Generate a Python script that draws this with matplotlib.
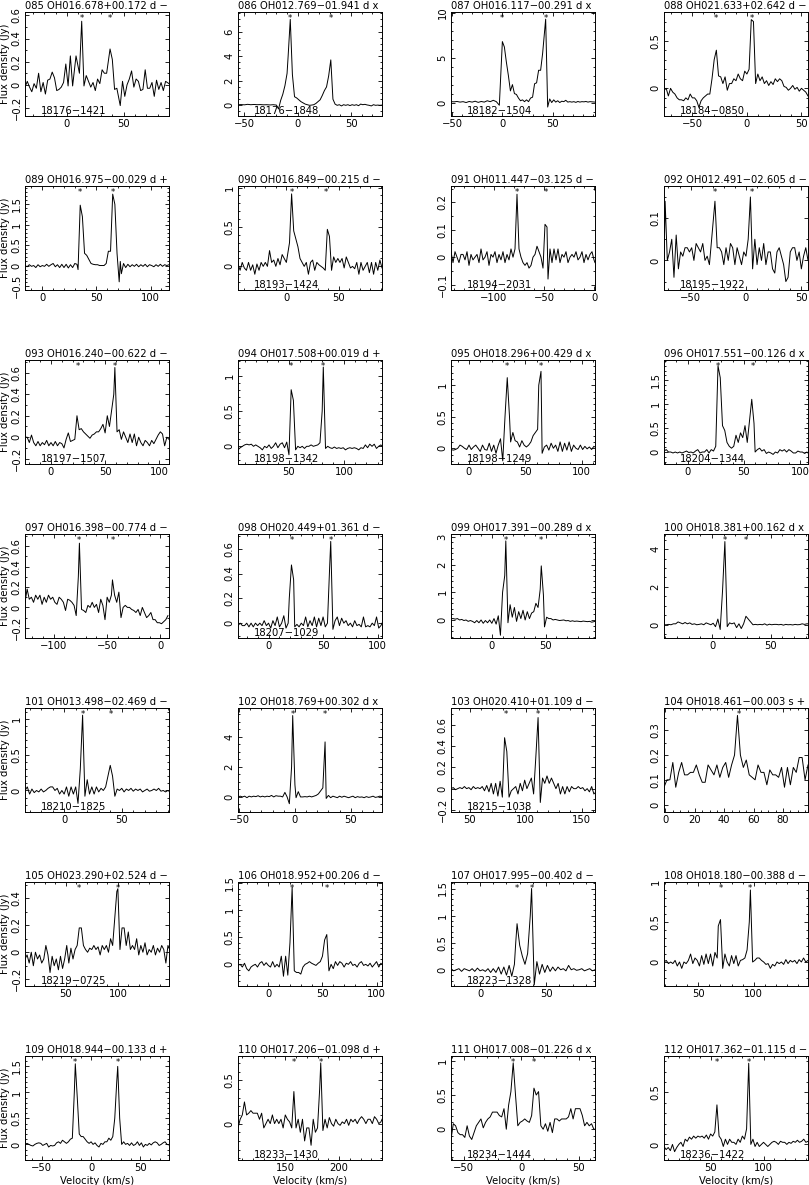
import matplotlib
matplotlib.use('Agg')
import matplotlib.pyplot as plt
import matplotlib.transforms as mtrans
from matplotlib.ticker import MultipleLocator, AutoMinorLocator, FuncFormatter

plt.rcParams['font.family'] = ['DejaVu Sans']
plt.rcParams['axes.linewidth'] = 0.7

# ---- panel headers -------------------------------------------------------
titles = ['085 OH016.678+00.172 d −', '086 OH012.769−01.941 d x', '087 OH016.117−00.291 d x',
          '088 OH021.633+02.642 d −', '089 OH016.975−00.029 d +', '090 OH016.849−00.215 d −',
          '091 OH011.447−03.125 d −', '092 OH012.491−02.605 d −', '093 OH016.240−00.622 d −',
          '094 OH017.508+00.019 d +', '095 OH018.296+00.429 d x', '096 OH017.551−00.126 d x',
          '097 OH016.398−00.774 d −', '098 OH020.449+01.361 d −', '099 OH017.391−00.289 d x',
          '100 OH018.381+00.162 d x', '101 OH013.498−02.469 d −', '102 OH018.769+00.302 d x',
          '103 OH020.410+01.109 d −', '104 OH018.461−00.003 s +', '105 OH023.290+02.524 d −',
          '106 OH018.952+00.206 d −', '107 OH017.995−00.402 d −', '108 OH018.180−00.388 d −',
          '109 OH018.944−00.133 d +', '110 OH017.206−01.098 d +', '111 OH017.008−01.226 d x',
          '112 OH017.362−01.115 d −']
names = ['18176−1421', '18176−1848', '18182−1504', '18184−0850', '', '18193−1424', '18194−2031',
         '18195−1922', '18197−1507', '18198−1342', '18198−1249', '18204−1344', '', '18207−1029',
         '', '', '18210−1825', '', '18215−1038', '', '18219−0725', '', '18223−1328', '', '',
         '18233−1430', '18234−1444', '18236−1422']
stars = [[13, 38], [-7, 31], [0, 43], [-28, 5], [35, 65], [5, 38], [-77, -48], [-28, 5],
         [25, 59], [52, 81], [34, 64], [27, 58], [-76, -45], [21, 57], [13, 46], [11, 29],
         [16, 41], [-2, 27], [82, 111], [50], [63, 100], [22, 54], [28, 39], [70, 97],
         [-16, 27], [158, 183], [-7, 11], [56, 86]]
xlims = [(-37, 90), (-56, 79), (-51, 92), (-76, 56), (-16, 117), (-46, 91), (-143, 1), (-74, 56),
         (-24, 109), (4, 134), (-16, 112), (-21, 107), (-127, 8), (-28, 104), (-38, 96), (-41, 82),
         (-34, 91), (-51, 78), (33, 162), (-1, 97), (11, 149), (-28, 105), (-22, 87), (19, 149),
         (-67, 79), (106, 240), (-61, 64), (6, 142)]
ylims = [(-0.27, 0.63), (-0.87, 7.6), (-1.5, 10.1), (-0.29, 0.8), (-0.6, 1.95), (-0.3, 1.02),
         (-0.12, 0.26), (-0.07, 0.176), (-0.25, 0.72), (-0.25, 1.22), (-0.25, 1.4), (-0.25, 1.92),
         (-0.3, 0.72), (-0.12, 0.72), (-0.65, 3.1), (-0.7, 4.8), (-0.3, 1.15), (-1.0, 5.9),
         (-0.22, 0.76), (-0.03, 0.39), (-0.25, 0.52), (-0.4, 1.52), (-0.3, 1.62), (-0.3, 1.0),
         (-0.3, 1.7), (-0.42, 0.78), (-0.45, 1.07), (-0.15, 0.85)]
xsteps = [50] * 19 + [20] + [50] * 8
ysteps = [0.2, 2, 5, 0.5, 0.5, 0.5, 0.1, 0.1, 0.2, 0.5, 0.5, 0.5, 0.2, 0.2, 1, 2,
          0.5, 2, 0.2, 0.1, 0.2, 0.5, 0.5, 0.5, 0.5, 0.5, 0.5, 0.5]

# ---- spectra: (velocity km/s, flux density Jy) ------------------------------
p085 = [(-37,-0.02),(-35,0.03),(-33,-0.02),(-31,-0.06),(-29,0.01),(-27,-0.03),(-25,0.10),(-23,-0.06),
        (-21,0.02),(-19,-0.08),(-17,0.04),(-15,0.05),(-13,0.11),(-11,0.06),(-9,-0.05),(-7,-0.04),
        (-5,-0.02),(-3,0.02),(-1,0.18),(1,-0.01),(3,0.25),(5,-0.01),(8,0.25),(11,0.10),(13,0.55),
        (15,-0.01),(17,0.08),(19,0.03),(21,-0.02),(23,0.02),(25,-0.05),(27,0.05),(29,0.01),(31,0.13),
        (33,0.10),(35,0.10),(38,0.31),(40,0.22),(42,-0.04),(44,-0.03),(47,-0.18),(49,0.03),(51,-0.10),
        (53,0.00),(55,0.05),(57,0.12),(59,-0.02),(61,0.05),(63,0.03),(65,-0.05),(67,-0.04),(69,0.13),
        (71,-0.03),(73,-0.03),(75,0.02),(77,-0.10),(79,0.04),(81,-0.04),(83,0.02),(85,-0.05),(87,0.03),
        (90,0.01)]
p086 = [(-56,0.05),(-53,0.06),(-50,0.04),(-47,0.08),(-44,0.05),(-41,0.07),(-38,0.05),(-35,0.06),
        (-32,0.04),(-29,0.05),(-26,0.03),(-23,0.05),(-20,0.02),(-18,-0.3),(-16,0.4),(-14,0.9),
        (-12,1.6),(-10,2.6),(-9,4.0),(-7,7.0),(-5,2.5),(-3,0.7),(-1,0.6),(1,0.45),(3,0.3),(5,0.2),
        (7,0.1),(9,0.05),(11,0.0),(13,0.02),(15,0.05),(17,0.15),(19,0.3),(21,0.45),(23,0.8),(25,1.2),
        (27,1.5),(29,2.4),(31,3.7),(33,0.5),(35,0.1),(37,0.0),(39,0.05),(41,-0.05),(43,0.05),(45,0.0),
        (47,0.05),(49,-0.02),(51,0.05),(53,0.0),(55,0.05),(57,-0.03),(59,0.1),(61,0.05),(63,0.08),
        (65,0.03),(67,0.0),(69,-0.05),(71,0.05),(73,0.0),(75,0.02),(77,0.0),(79,0.02)]
p087 = [(-51,0.1),(-48,0.08),(-45,0.12),(-42,0.05),(-39,0.1),(-36,0.0),(-33,0.12),(-30,0.05),
        (-27,0.15),(-24,0.02),(-21,0.12),(-18,0.05),(-15,0.2),(-12,0.1),(-9,0.25),(-6,0.1),(-3,-0.3),
        (0,6.8),(2,6.2),(4,4.5),(6,3.0),(8,1.3),(10,2.0),(12,1.0),(14,0.9),(16,0.5),(18,0.2),(20,0.3),
        (22,0.1),(24,0.3),(26,0.1),(28,0.5),(30,0.6),(32,2.1),(34,2.2),(36,3.6),(38,3.6),(40,5.5),
        (43,9.3),(45,-0.5),(47,0.4),(49,0.0),(51,0.3),(53,0.05),(55,0.2),(57,0.0),(59,0.15),(61,0.1),
        (63,0.25),(65,0.05),(67,0.1),(69,0.05),(71,0.1),(73,0.02),(75,0.12),(77,0.05),(79,0.1),
        (81,0.08),(83,0.12),(85,0.05),(87,0.1),(89,0.08),(92,0.05)]
p088 = [(-76,-0.02),(-74,0.0),(-72,-0.08),(-70,0.0),(-68,-0.04),(-66,-0.06),(-64,-0.1),(-62,-0.12),
        (-60,-0.12),(-58,-0.13),(-56,-0.1),(-54,-0.12),(-52,-0.06),(-50,-0.1),(-48,-0.1),(-46,-0.13),
        (-44,-0.2),(-42,-0.13),(-40,-0.1),(-38,-0.08),(-36,-0.06),(-34,-0.06),(-32,0.1),(-30,0.3),
        (-28,0.4),(-26,0.13),(-24,0.12),(-22,0.05),(-20,0.12),(-18,-0.02),(-16,0.05),(-14,0.05),
        (-12,0.1),(-10,0.08),(-8,0.15),(-6,0.1),(-4,0.08),(-2,0.18),(0,0.15),(2,0.2),(4,0.72),(6,0.7),
        (8,0.05),(10,0.15),(12,0.08),(14,0.12),(16,0.05),(18,0.08),(20,0.03),(22,0.07),(24,0.04),
        (26,0.1),(28,0.07),(30,0.1),(32,0.08),(34,0.02),(36,0.01),(38,-0.02),(40,0.0),(42,0.03),
        (44,-0.01),(46,0.01),(48,-0.03),(50,0.0),(52,-0.02),(54,-0.04),(56,-0.08)]
p089 = [(-16,0.0),(-14,-0.03),(-12,0.02),(-10,-0.02),(-8,0.0),(-6,-0.05),(-4,0.02),(-2,-0.03),
        (0,0.0),(2,-0.02),(4,0.03),(6,-0.02),(8,0.02),(10,0.05),(12,-0.03),(14,0.02),(16,-0.05),
        (18,0.03),(20,-0.05),(22,0.03),(24,-0.06),(26,0.02),(28,-0.05),(30,0.05),(32,0.03),(33,-0.1),
        (35,1.48),(37,1.2),(39,0.3),(41,0.25),(43,0.15),(45,0.05),(47,0.03),(49,0.02),(51,0.02),
        (53,0.0),(55,0.0),(57,0.0),(59,0.05),(61,0.35),(63,0.35),(65,1.75),(67,1.5),(69,0.3),
        (71,-0.4),(72,0.1),(73,-0.2),(75,0.05),(77,-0.05),(79,0.03),(81,-0.03),(83,0.02),(85,-0.02),
        (87,0.03),(89,-0.03),(91,0.02),(93,-0.02),(95,0.03),(97,-0.03),(99,0.02),(101,0.0),
        (103,-0.03),(105,0.02),(107,-0.02),(109,0.03),(111,-0.02),(113,0.02),(115,0.0),(117,0.02)]
p090 = [(-46,0.03),(-44,-0.05),(-42,0.05),(-40,-0.02),(-38,-0.05),(-36,0.05),(-34,-0.05),(-32,0.02),
        (-30,-0.1),(-28,0.03),(-26,-0.05),(-24,0.05),(-22,0.0),(-20,0.05),(-18,0.0),(-16,0.2),
        (-14,0.05),(-12,0.08),(-10,0.0),(-8,0.1),(-6,0.02),(-4,0.15),(-2,0.1),(0,0.05),(3,0.3),
        (5,0.92),(7,0.45),(9,0.35),(11,0.25),(13,0.1),(15,0.05),(17,0.0),(19,0.05),(21,-0.1),
        (23,0.05),(25,0.08),(27,-0.05),(29,0.05),(31,0.02),(33,0.0),(35,-0.02),(37,-0.05),(39,0.47),
        (41,0.38),(43,-0.05),(45,0.12),(47,0.05),(49,0.1),(51,0.05),(53,0.1),(55,-0.02),(57,0.12),
        (59,0.05),(61,-0.02),(63,0.0),(65,-0.03),(67,0.05),(69,-0.1),(71,0.05),(73,-0.05),(75,0.0),
        (77,0.05),(79,-0.08),(81,0.05),(83,-0.1),(85,0.05),(87,-0.05),(89,0.08),(91,-0.02)]
p091 = [(-143,0.02),(-141,-0.02),(-139,0.02),(-137,0.0),(-135,-0.02),(-133,0.01),(-131,0.01),
        (-129,-0.01),(-127,0.02),(-125,-0.03),(-123,0.01),(-121,-0.01),(-119,0.0),(-117,0.01),
        (-115,-0.02),(-113,0.03),(-111,-0.01),(-109,0.0),(-107,0.02),(-105,-0.03),(-103,0.01),
        (-101,0.0),(-99,0.02),(-97,-0.02),(-95,0.01),(-93,-0.01),(-91,0.02),(-89,-0.02),(-87,0.01),
        (-85,-0.01),(-83,0.03),(-81,0.0),(-79,0.03),(-77,0.23),(-75,0.03),(-73,0.0),(-71,-0.02),
        (-69,-0.03),(-67,-0.02),(-65,-0.04),(-63,-0.03),(-61,0.0),(-59,0.01),(-57,0.04),(-55,0.02),
        (-53,0.0),(-51,-0.04),(-49,0.12),(-47,0.11),(-46,-0.08),(-44,0.03),(-42,-0.02),(-40,0.03),
        (-38,-0.01),(-36,0.03),(-34,-0.02),(-32,0.01),(-30,0.0),(-28,0.02),(-26,-0.02),(-24,0.0),
        (-22,0.01),(-20,0.0),(-18,0.02),(-16,-0.01),(-14,0.0),(-12,0.02),(-10,-0.02),(-8,0.01),
        (-6,-0.01),(-4,0.01),(-2,0.02),(0,-0.01),(1,-0.02)]
p092 = [(-74,-0.01),(-73,0.14),(-71,0.0),(-69,0.02),(-67,0.05),(-65,-0.04),(-63,0.06),(-61,-0.02),
        (-59,0.02),(-57,0.01),(-55,0.03),(-53,0.03),(-51,0.02),(-49,0.03),(-47,0.0),(-45,0.04),
        (-43,0.03),(-41,0.02),(-39,0.04),(-37,0.0),(-35,0.01),(-33,-0.01),(-30,0.08),(-28,0.14),
        (-26,0.03),(-24,0.03),(-22,0.02),(-20,-0.01),(-18,0.03),(-16,0.0),(-14,0.04),(-12,0.03),
        (-10,-0.01),(-8,0.03),(-6,0.01),(-4,-0.01),(-2,0.02),(0,0.01),(2,0.05),(4,0.15),(6,-0.02),
        (8,0.05),(10,-0.01),(12,0.03),(14,0.0),(16,0.04),(18,-0.01),(20,0.02),(22,0.02),(24,-0.02),
        (26,-0.03),(28,0.02),(30,0.03),(32,0.01),(34,-0.01),(36,-0.05),(38,-0.04),(40,0.02),
        (42,0.03),(44,0.03),(46,0.0),(48,0.02),(50,-0.02),(52,0.01),(54,0.03),(56,0.0)]
p093 = [(-24,0.0),(-22,0.0),(-20,-0.05),(-18,0.02),(-16,-0.05),(-14,-0.08),(-12,-0.04),(-10,-0.08),
        (-8,-0.05),(-6,-0.07),(-4,-0.03),(-2,-0.08),(0,-0.05),(2,-0.08),(4,-0.04),(6,-0.08),(8,-0.05),
        (10,-0.06),(12,-0.1),(14,-0.02),(16,0.04),(18,-0.04),(20,-0.03),(22,-0.02),(24,0.2),(26,0.07),
        (28,0.08),(30,0.05),(32,0.03),(34,0.01),(36,-0.01),(38,0.02),(40,0.03),(42,0.05),(44,0.05),
        (46,0.08),(48,0.12),(50,0.04),(52,0.2),(54,0.1),(56,0.25),(58,0.4),(59,0.65),(61,0.05),
        (63,0.07),(65,-0.02),(67,0.05),(69,0.0),(71,-0.05),(73,0.03),(75,-0.05),(77,0.03),(79,-0.08),
        (81,0.0),(83,-0.05),(85,-0.08),(87,-0.03),(89,-0.05),(91,-0.08),(93,-0.03),(95,-0.06),
        (97,-0.02),(99,0.02),(101,0.05),(103,0.03),(105,-0.08),(107,0.0),(109,-0.02)]
p094 = [(4,-0.05),(6,-0.02),(8,0.0),(10,0.02),(12,0.03),(14,0.02),(16,0.03),(18,0.0),(20,0.02),
        (22,0.0),(24,-0.02),(26,-0.05),(28,0.0),(30,-0.02),(32,0.02),(34,-0.03),(36,0.0),(38,0.05),
        (40,-0.02),(42,0.03),(44,0.05),(46,-0.02),(48,0.06),(50,-0.12),(52,0.8),(54,0.65),(56,-0.05),
        (58,0.0),(60,-0.02),(62,0.0),(64,-0.03),(66,0.0),(68,0.0),(70,0.02),(72,0.0),(74,0.01),
        (76,0.02),(78,0.05),(80,0.5),(81,1.12),(83,-0.03),(85,0.0),(87,-0.02),(89,-0.03),(91,-0.01),
        (93,-0.03),(95,-0.02),(97,-0.03),(99,-0.02),(101,-0.05),(103,-0.03),(105,-0.02),(107,-0.03),
        (109,-0.02),(111,-0.03),(113,-0.05),(115,-0.02),(117,-0.03),(119,0.02),(121,-0.02),(123,0.03),
        (125,0.0),(127,0.03),(129,-0.03),(131,0.0),(133,0.02),(134,0.0)]
p095 = [(-16,-0.02),(-14,-0.03),(-12,-0.02),(-10,0.0),(-8,0.05),(-6,0.03),(-4,0.0),(-2,-0.02),
        (0,0.05),(2,-0.02),(4,0.02),(6,0.05),(8,0.0),(10,-0.05),(12,0.05),(14,-0.02),(16,-0.03),
        (18,0.08),(20,-0.05),(22,0.05),(24,-0.08),(26,0.05),(28,0.15),(30,-0.2),(32,0.5),(34,1.12),
        (36,0.5),(37,0.1),(39,0.25),(41,0.12),(43,0.1),(45,0.02),(47,0.12),(49,0.05),(51,0.02),
        (53,0.05),(55,0.1),(57,0.2),(59,0.25),(61,0.3),(62,1.0),(64,1.22),(65,-0.08),(67,0.02),
        (69,0.05),(71,-0.03),(73,0.08),(75,0.0),(77,0.05),(79,-0.05),(81,0.1),(83,-0.05),(85,0.08),
        (87,-0.03),(89,0.1),(91,-0.05),(93,0.05),(95,0.0),(97,-0.02),(99,0.05),(101,-0.02),(103,0.03),
        (105,-0.01),(107,0.02),(109,-0.02),(111,0.03),(112,0.02)]
p096 = [(-21,0.02),(-19,0.05),(-17,0.0),(-15,0.0),(-13,-0.02),(-11,0.0),(-9,-0.02),(-7,0.0),
        (-5,-0.02),(-3,0.0),(-1,0.02),(1,-0.01),(3,0.0),(5,-0.02),(7,0.02),(9,0.05),(11,-0.02),
        (13,0.0),(15,0.0),(17,0.05),(19,-0.02),(21,0.05),(23,0.02),(25,0.12),(27,1.8),(29,1.55),
        (31,0.55),(33,0.45),(35,0.2),(37,0.12),(39,0.08),(41,0.12),(43,0.35),(45,0.2),(47,0.4),
        (49,0.3),(51,0.55),(53,0.2),(55,0.65),(57,1.1),(59,0.6),(60,0.0),(62,0.05),(64,0.08),(66,0.02),
        (68,0.05),(70,-0.03),(72,0.0),(74,-0.02),(76,-0.05),(78,0.0),(80,-0.02),(82,0.05),(84,0.02),
        (86,0.05),(88,0.0),(90,0.05),(92,0.02),(94,-0.02),(96,-0.02),(98,0.02),(100,0.0),(102,0.0),
        (104,-0.03),(106,0.0),(107,-0.02)]
p097 = [(-127,0.05),(-125,0.18),(-123,0.08),(-121,0.1),(-119,0.05),(-117,0.12),(-115,0.08),
        (-113,0.12),(-111,0.03),(-109,0.1),(-107,0.05),(-105,0.12),(-103,0.08),(-101,0.1),(-99,0.05),
        (-97,0.03),(-95,0.1),(-93,0.08),(-91,0.05),(-89,-0.03),(-87,0.08),(-85,0.07),(-83,0.05),
        (-81,0.02),(-79,-0.08),(-77,0.3),(-76,0.63),(-74,-0.02),(-72,-0.03),(-70,-0.05),(-68,0.02),
        (-66,0.0),(-64,0.05),(-62,0.0),(-60,0.03),(-58,-0.05),(-56,0.08),(-54,0.02),(-52,-0.12),
        (-50,0.1),(-48,0.05),(-46,0.12),(-45,0.27),(-43,0.12),(-41,0.05),(-39,0.15),(-37,-0.1),
        (-35,0.0),(-33,0.02),(-31,0.0),(-29,0.0),(-27,-0.02),(-25,-0.03),(-23,-0.05),(-21,-0.02),
        (-19,-0.08),(-17,0.0),(-15,-0.05),(-13,-0.1),(-11,-0.08),(-9,-0.05),(-7,-0.12),(-5,-0.12),
        (-3,-0.15),(-1,-0.15),(1,-0.16),(3,-0.14),(5,-0.12),(7,-0.08)]
p098 = [(-28,-0.02),(-26,0.0),(-24,-0.02),(-22,-0.02),(-20,0.0),(-18,-0.03),(-16,0.0),(-14,-0.03),
        (-12,0.0),(-10,-0.02),(-8,0.0),(-6,-0.02),(-4,0.02),(-2,-0.02),(0,0.0),(2,-0.04),(4,0.02),
        (6,-0.02),(8,0.05),(10,-0.03),(12,0.0),(14,0.06),(16,-0.04),(18,0.0),(19,0.2),(21,0.47),
        (23,0.35),(24,-0.03),(26,-0.01),(28,-0.03),(30,0.0),(32,-0.02),(34,0.05),(36,-0.03),(38,0.02),
        (40,-0.02),(42,0.05),(44,-0.03),(46,0.04),(48,-0.02),(50,0.05),(52,-0.03),(54,0.0),(56,0.45),
        (57,0.66),(59,-0.05),(61,0.02),(63,0.05),(65,-0.02),(67,0.04),(69,0.0),(71,0.02),(73,-0.02),
        (75,0.0),(77,-0.03),(79,0.02),(81,-0.02),(83,-0.01),(85,-0.03),(87,0.05),(89,-0.03),(91,-0.02),
        (93,-0.03),(95,0.0),(97,-0.02),(99,0.05),(101,-0.04),(103,-0.02),(104,0.0)]
p099 = [(-38,0.05),(-36,0.05),(-34,0.03),(-32,0.05),(-30,0.0),(-28,0.02),(-26,-0.02),(-24,0.0),
        (-22,-0.05),(-20,-0.02),(-18,-0.05),(-16,-0.1),(-14,-0.02),(-12,-0.1),(-10,0.0),(-8,-0.12),
        (-6,-0.02),(-4,-0.1),(-2,0.0),(0,-0.12),(2,0.05),(4,-0.15),(6,0.15),(8,-0.55),(10,1.0),
        (12,1.6),(13,2.85),(15,-0.1),(17,0.55),(19,0.1),(21,0.45),(23,-0.05),(25,0.3),(27,0.05),
        (29,0.35),(31,0.0),(33,0.3),(35,0.05),(37,0.25),(39,0.3),(41,0.6),(43,0.45),(45,1.1),
        (46,1.95),(48,0.9),(49,-0.25),(51,0.1),(53,0.05),(55,0.05),(57,0.0),(59,0.02),(61,0.0),
        (63,-0.02),(65,-0.01),(67,0.0),(69,-0.03),(71,-0.02),(73,-0.05),(75,-0.03),(77,-0.05),
        (79,-0.04),(81,-0.05),(83,-0.06),(85,-0.04),(87,-0.05),(89,-0.06),(91,-0.05),(93,-0.08),
        (95,-0.06),(96,-0.05)]
p100 = [(-41,0.0),(-39,0.0),(-37,0.02),(-35,0.0),(-33,0.05),(-31,0.05),(-29,0.15),(-27,0.1),
        (-25,0.05),(-23,0.12),(-21,0.05),(-19,0.1),(-17,0.02),(-15,0.05),(-13,0.0),(-11,0.02),
        (-9,0.05),(-7,0.0),(-5,0.1),(-3,0.05),(-1,0.0),(1,0.08),(3,-0.1),(5,0.3),(7,-0.25),(9,1.8),
        (11,4.4),(13,-0.1),(15,0.1),(17,0.05),(19,0.1),(21,-0.15),(23,0.05),(25,-0.2),(27,0.05),
        (29,0.45),(31,0.3),(33,0.15),(35,0.0),(37,0.02),(39,0.0),(41,0.02),(43,0.0),(45,0.05),
        (47,-0.02),(49,0.03),(51,0.0),(53,0.02),(55,0.02),(57,0.0),(59,0.02),(61,-0.02),(63,0.02),
        (65,0.0),(67,0.01),(69,-0.01),(71,0.02),(73,0.0),(75,0.01),(77,0.05),(79,0.02),(81,0.05),
        (82,0.05)]
p101 = [(-34,0.0),(-32,0.05),(-30,-0.05),(-28,0.02),(-26,-0.03),(-24,0.0),(-22,-0.02),(-20,0.02),
        (-18,-0.02),(-16,0.0),(-14,0.03),(-12,0.05),(-10,0.05),(-8,0.0),(-6,0.03),(-4,-0.05),(-2,0.0),
        (0,-0.05),(2,0.05),(4,-0.08),(6,0.05),(8,-0.05),(10,0.05),(12,-0.18),(14,0.3),(16,1.05),
        (18,-0.08),(20,0.15),(22,-0.05),(24,0.05),(26,-0.05),(28,0.05),(30,-0.02),(32,0.03),(34,0.0),
        (36,0.05),(38,0.2),(40,0.35),(42,0.2),(44,-0.08),(46,0.02),(48,0.0),(50,0.03),(52,-0.02),
        (54,0.02),(56,0.0),(58,0.03),(60,-0.01),(62,0.02),(64,0.0),(66,0.02),(68,-0.02),(70,0.0),
        (72,0.02),(74,-0.01),(76,0.0),(78,0.02),(80,0.0),(82,0.03),(84,-0.01),(86,0.0),(88,-0.02),
        (90,0.0),(91,-0.01)]
p102 = [(-51,0.0),(-49,0.05),(-47,0.0),(-45,0.05),(-43,-0.05),(-41,0.05),(-39,0.0),(-37,0.05),
        (-35,0.02),(-33,0.08),(-31,0.0),(-29,0.05),(-27,0.0),(-25,0.05),(-23,0.02),(-21,0.1),
        (-19,0.0),(-17,0.08),(-15,0.05),(-13,0.05),(-11,0.0),(-9,0.3),(-7,0.0),(-5,-0.45),(-3,2.0),
        (-2,5.4),(0,0.8),(1,-0.05),(3,0.35),(5,0.0),(7,0.0),(9,0.02),(11,0.0),(13,0.05),(15,0.0),
        (17,0.05),(19,0.1),(21,0.2),(23,0.4),(25,0.6),(27,3.65),(28,-0.1),(30,0.1),(32,-0.05),
        (34,0.05),(36,0.0),(38,-0.05),(40,0.05),(42,-0.02),(44,0.05),(46,0.0),(48,-0.05),(50,0.0),
        (52,0.05),(54,-0.05),(56,0.02),(58,-0.02),(60,0.0),(62,-0.05),(64,0.02),(66,-0.03),(68,0.0),
        (70,0.05),(72,-0.03),(74,0.0),(76,0.05),(78,0.02)]
p103 = [(33,0.0),(35,0.01),(37,-0.01),(39,0.0),(41,0.01),(43,0.0),(45,0.02),(47,0.0),(49,0.01),
        (51,-0.01),(53,0.02),(55,0.0),(57,0.01),(59,0.0),(61,0.02),(63,-0.02),(65,0.03),(67,-0.03),
        (69,0.05),(71,-0.05),(73,0.05),(75,-0.07),(77,0.07),(79,-0.08),(81,0.48),(83,0.35),(85,-0.08),
        (87,-0.02),(89,0.0),(91,0.02),(93,-0.05),(95,0.05),(97,-0.02),(99,0.08),(101,0.0),(103,0.05),
        (105,0.1),(107,-0.05),(109,0.3),(111,0.67),(113,-0.13),(115,0.1),(117,0.05),(119,0.12),
        (121,0.05),(123,0.1),(125,0.05),(127,0.0),(129,0.05),(131,-0.05),(133,0.02),(135,-0.05),
        (137,0.02),(139,-0.03),(141,0.02),(143,0.0),(145,0.0),(147,0.02),(149,0.0),(151,0.01),
        (153,-0.02),(155,0.0),(157,-0.03),(159,0.02),(161,-0.05),(162,-0.04)]
p104 = [(-1,0.07),(1,0.1),(3,0.1),(5,0.17),(7,0.07),(9,0.13),(11,0.17),(13,0.12),(15,0.12),
        (17,0.13),(19,0.13),(21,0.16),(23,0.12),(25,0.09),(27,0.09),(29,0.16),(31,0.14),(33,0.12),
        (35,0.16),(37,0.11),(39,0.15),(41,0.17),(43,0.11),(45,0.16),(47,0.2),(49,0.36),(51,0.2),
        (53,0.15),(55,0.18),(57,0.12),(59,0.11),(61,0.1),(63,0.16),(65,0.13),(67,0.13),(69,0.08),
        (71,0.14),(73,0.12),(75,0.12),(77,0.11),(79,0.15),(81,0.07),(83,0.15),(85,0.08),(87,0.15),
        (89,0.13),(91,0.19),(93,0.19),(95,0.1),(97,0.16)]
p105 = [(11,-0.05),(13,-0.02),(15,-0.08),(17,0.0),(19,-0.1),(21,0.0),(23,-0.05),(25,-0.02),
        (27,-0.08),(29,-0.05),(31,0.05),(33,-0.02),(35,-0.15),(37,-0.03),(39,-0.1),(41,-0.05),
        (43,-0.13),(45,-0.03),(47,-0.12),(49,-0.05),(51,0.05),(53,-0.08),(55,0.03),(57,-0.05),
        (59,0.02),(61,0.05),(63,0.18),(65,0.18),(67,0.05),(69,0.02),(71,0.0),(73,0.03),(75,0.02),
        (77,0.05),(79,0.02),(81,0.04),(83,-0.02),(85,0.05),(87,0.02),(89,0.05),(91,0.0),(93,0.1),
        (95,0.05),(97,0.25),(99,0.45),(100,0.47),(102,0.02),(104,0.18),(106,0.18),(108,0.05),
        (110,0.15),(112,0.02),(114,0.05),(116,0.02),(118,0.1),(120,-0.02),(122,0.05),(124,0.0),
        (126,0.07),(128,-0.02),(130,0.02),(132,0.0),(134,0.05),(136,-0.02),(138,0.03),(140,0.0),
        (142,0.05),(144,0.02),(146,-0.08),(148,0.05),(149,0.03)]
p106 = [(-28,-0.02),(-26,0.0),(-24,-0.05),(-22,0.02),(-20,-0.08),(-18,-0.12),(-16,-0.05),(-14,-0.02),
        (-12,0.0),(-10,-0.05),(-8,0.02),(-6,0.05),(-4,-0.02),(-2,0.03),(0,-0.02),(2,-0.05),(4,0.05),
        (6,-0.05),(8,0.0),(10,-0.05),(12,0.15),(14,-0.22),(16,0.15),(18,-0.2),(20,0.4),(22,1.42),
        (24,-0.12),(26,-0.15),(28,-0.15),(30,-0.18),(32,-0.05),(34,0.0),(36,0.02),(38,0.05),(40,0.02),
        (42,0.0),(44,-0.02),(46,0.02),(48,0.05),(50,0.15),(52,0.45),(54,0.55),(56,-0.12),(58,0.0),
        (60,-0.08),(62,0.05),(64,-0.02),(66,0.05),(68,0.02),(70,-0.05),(72,0.02),(74,0.0),(76,0.05),
        (78,-0.02),(80,0.0),(82,-0.05),(84,0.02),(86,0.05),(88,-0.02),(90,0.0),(92,-0.03),(94,0.02),
        (96,-0.05),(98,0.0),(100,0.05),(102,-0.05),(104,0.02),(105,0.0)]
p107 = [(-22,0.02),(-20,-0.02),(-18,0.0),(-16,0.02),(-14,-0.03),(-12,0.02),(-10,0.0),(-8,-0.02),
        (-6,0.02),(-4,-0.03),(-2,0.03),(0,-0.02),(2,0.0),(4,-0.03),(6,0.02),(8,-0.05),(10,0.02),
        (12,-0.05),(14,0.05),(16,-0.08),(18,0.05),(20,-0.1),(22,0.08),(24,-0.12),(26,0.1),(27,0.5),
        (28,0.85),(30,0.45),(32,0.25),(34,0.1),(36,0.3),(38,1.0),(39,1.5),(41,-0.28),(43,0.15),
        (45,-0.08),(47,0.1),(49,-0.05),(51,0.08),(53,-0.03),(55,0.05),(57,-0.02),(59,0.05),(61,0.0),
        (63,0.02),(65,-0.02),(67,0.08),(69,0.0),(71,0.02),(73,-0.01),(75,0.0),(77,0.02),(79,-0.02),
        (81,0.0),(83,0.02),(85,-0.02),(87,0.0)]
p108 = [(19,0.0),(21,0.02),(23,-0.02),(25,0.0),(27,-0.02),(29,0.02),(31,-0.05),(33,0.0),(35,-0.08),
        (37,0.0),(39,-0.02),(41,0.02),(43,0.1),(45,-0.02),(47,0.05),(49,0.02),(51,-0.05),(53,0.08),
        (55,-0.03),(57,0.1),(59,-0.02),(61,0.1),(63,-0.05),(65,0.12),(67,0.05),(68,0.45),(70,0.53),
        (72,-0.08),(74,0.1),(76,0.0),(78,-0.05),(80,0.08),(82,-0.02),(84,0.08),(86,-0.05),(88,0.02),
        (90,0.03),(92,0.05),(94,0.15),(96,0.5),(97,0.9),(99,0.0),(101,0.02),(103,0.05),(105,0.05),
        (107,0.02),(109,0.0),(111,-0.03),(113,-0.02),(115,-0.08),(117,-0.03),(119,-0.05),(121,0.0),
        (123,-0.02),(125,0.0),(127,-0.03),(129,0.03),(131,-0.02),(133,0.02),(135,0.0),(137,0.02),
        (139,-0.02),(141,0.03),(143,0.0),(145,0.05),(147,0.0),(149,0.02)]
p109 = [(-67,0.0),(-65,0.02),(-63,0.0),(-61,-0.02),(-59,-0.03),(-57,0.0),(-55,0.02),(-53,0.03),
        (-51,0.02),(-49,-0.02),(-47,0.0),(-45,0.02),(-43,-0.05),(-41,-0.02),(-39,-0.03),(-37,-0.02),
        (-35,0.03),(-33,0.05),(-31,0.02),(-29,0.08),(-27,0.05),(-25,0.02),(-23,0.05),(-21,0.1),
        (-19,0.12),(-17,1.0),(-16,1.55),(-14,0.9),(-12,0.2),(-10,0.15),(-8,0.15),(-6,0.1),(-4,0.05),
        (-2,0.02),(0,0.05),(2,0.0),(4,0.03),(6,-0.02),(8,-0.05),(10,0.02),(12,0.0),(14,0.05),
        (16,0.05),(18,0.12),(20,0.08),(22,0.15),(24,0.5),(26,1.2),(27,1.5),(29,0.5),(31,0.0),
        (33,0.05),(35,0.0),(37,0.02),(39,-0.02),(41,0.03),(43,-0.02),(45,0.0),(47,0.05),(49,-0.02),
        (51,0.03),(53,-0.05),(55,0.0),(57,-0.02),(59,0.02),(61,-0.01),(63,0.03),(65,0.05),(67,0.03),
        (69,-0.02),(71,0.0),(73,0.03),(75,0.05),(77,0.0),(79,-0.01)]
p110 = [(106,-0.05),(108,0.05),(110,0.1),(112,0.25),(114,0.1),(116,0.12),(118,0.15),(120,0.12),
        (122,0.12),(124,0.12),(126,0.05),(128,0.12),(130,-0.05),(132,0.0),(134,0.05),(136,0.0),
        (138,0.1),(140,0.0),(142,0.05),(144,0.0),(146,0.05),(148,-0.05),(150,0.1),(152,0.05),
        (154,0.02),(156,-0.05),(158,0.37),(160,-0.05),(162,0.05),(164,-0.1),(166,0.05),(168,-0.2),
        (170,-0.05),(172,-0.05),(174,-0.25),(176,0.05),(178,-0.1),(180,-0.05),(182,0.4),(183,0.7),
        (185,-0.08),(187,0.05),(189,-0.05),(191,0.07),(193,0.0),(195,-0.03),(197,0.05),(199,0.0),
        (201,-0.02),(203,0.02),(205,0.0),(207,0.05),(209,-0.02),(211,0.05),(213,0.02),(215,0.05),
        (217,0.0),(219,0.05),(221,0.08),(223,0.05),(225,0.0),(227,0.05),(229,0.05),(231,0.0),
        (233,0.08),(235,0.05),(237,0.0),(239,0.02),(240,0.05)]
p111 = [(-61,-0.15),(-59,0.08),(-57,0.05),(-55,-0.05),(-53,-0.08),(-51,-0.08),(-49,-0.12),(-47,0.05),
        (-45,-0.1),(-43,-0.15),(-41,-0.05),(-39,0.05),(-37,0.1),(-35,0.15),(-33,0.02),(-31,0.1),
        (-29,0.15),(-27,0.18),(-25,0.25),(-23,0.25),(-21,0.25),(-19,0.2),(-17,0.18),(-15,0.3),
        (-13,0.0),(-11,0.35),(-9,0.55),(-7,0.97),(-5,0.5),(-3,0.05),(-1,0.1),(1,0.12),(3,0.15),
        (5,0.12),(7,0.1),(9,0.2),(11,0.6),(13,0.5),(15,0.55),(17,0.05),(19,0.0),(21,0.08),(23,-0.03),
        (25,0.1),(27,-0.05),(29,0.15),(31,0.15),(33,0.12),(35,0.15),(37,0.15),(39,0.15),(41,0.18),
        (43,0.3),(45,0.15),(47,0.3),(49,0.3),(51,0.3),(53,0.2),(55,0.05),(57,0.1),(59,0.05),
        (61,0.08),(63,0.0),(64,0.0)]
p112 = [(6,-0.02),(8,-0.05),(10,-0.03),(12,-0.06),(14,0.0),(16,-0.07),(18,-0.03),(20,0.0),(22,0.02),
        (24,-0.02),(26,0.05),(28,0.03),(30,0.07),(32,0.05),(34,0.08),(36,0.06),(38,0.08),(40,0.07),
        (42,0.08),(44,0.06),(46,0.09),(48,0.05),(50,0.1),(52,0.08),(54,0.12),(56,0.38),(58,0.08),
        (60,0.05),(62,-0.02),(64,0.05),(66,0.0),(68,0.05),(70,0.02),(72,0.02),(74,0.0),(76,0.05),
        (78,0.02),(80,0.08),(82,0.05),(84,0.15),(86,0.78),(88,0.0),(90,0.05),(92,-0.02),(94,0.02),
        (96,-0.02),(98,0.0),(100,0.02),(102,0.0),(104,-0.02),(106,0.0),(108,0.02),(110,0.03),
        (112,0.02),(114,0.0),(116,0.03),(118,0.02),(120,0.02),(122,0.0),(124,0.02),(126,0.01),
        (128,0.03),(130,0.02),(132,0.04),(134,0.02),(136,0.03),(138,0.05),(140,0.02),(142,0.03)]

spectra = [p085, p086, p087, p088, p089, p090, p091, p092, p093, p094, p095, p096, p097, p098,
           p099, p100, p101, p102, p103, p104, p105, p106, p107, p108, p109, p110, p111, p112]


def tick_fmt(x, pos):
    s = '%g' % round(x, 6)
    if s == '-0':
        s = '0'
    return s.replace('-', '−')


W, H = 809, 1185
fig = plt.figure(figsize=(W / 100, H / 100), dpi=100)
col_left = [25, 238, 451, 664]
aw, ah = 144, 104
fs = 7.2

for k in range(28):
    r, c = divmod(k, 4)
    top = 12 + 174 * r
    ax = fig.add_axes([col_left[c] / W, 1 - (top + ah) / H, aw / W, ah / H])
    v = [p[0] for p in spectra[k]]
    f = [p[1] for p in spectra[k]]
    ax.plot(v, f, color='black', lw=0.7)
    ax.set_xlim(*xlims[k])
    ax.set_ylim(*ylims[k])

    ax.xaxis.set_major_locator(MultipleLocator(xsteps[k]))
    ax.xaxis.set_minor_locator(AutoMinorLocator(5 if xsteps[k] == 50 else 4))
    ax.yaxis.set_major_locator(MultipleLocator(ysteps[k]))
    ysub = {0.1: 2, 0.2: 2, 0.5: 5, 1: 5, 2: 4, 5: 5}[ysteps[k]]
    ax.yaxis.set_minor_locator(AutoMinorLocator(ysub))
    ax.xaxis.set_major_formatter(FuncFormatter(tick_fmt))
    ax.yaxis.set_major_formatter(FuncFormatter(tick_fmt))

    ax.tick_params(which='both', direction='in', top=True, right=True, width=0.6,
                   labelsize=fs, color='black')
    ax.tick_params(which='major', length=3.2)
    ax.tick_params(which='minor', length=1.6)
    ax.tick_params(axis='x', pad=2)
    ax.tick_params(axis='y', pad=2.5, labelrotation=90)
    for lbl in ax.get_yticklabels():
        lbl.set_va('center')

    ax.set_title(titles[k], loc='left', fontsize=fs, pad=2.5)

    trans = mtrans.blended_transform_factory(ax.transData, ax.transAxes)
    for s in stars[k]:
        ax.text(s, 0.985, '*', transform=trans, ha='center', va='top', fontsize=6.2)

    if names[k]:
        ax.text(0.11, 0.0, names[k], transform=ax.transAxes, fontsize=fs, va='bottom')

    if c == 0:
        ax.set_ylabel('Flux density (Jy)', fontsize=fs, labelpad=1)
    if r == 6:
        ax.set_xlabel('Velocity (km/s)', fontsize=fs, labelpad=2)

fig.savefig('out.png', dpi=100)
